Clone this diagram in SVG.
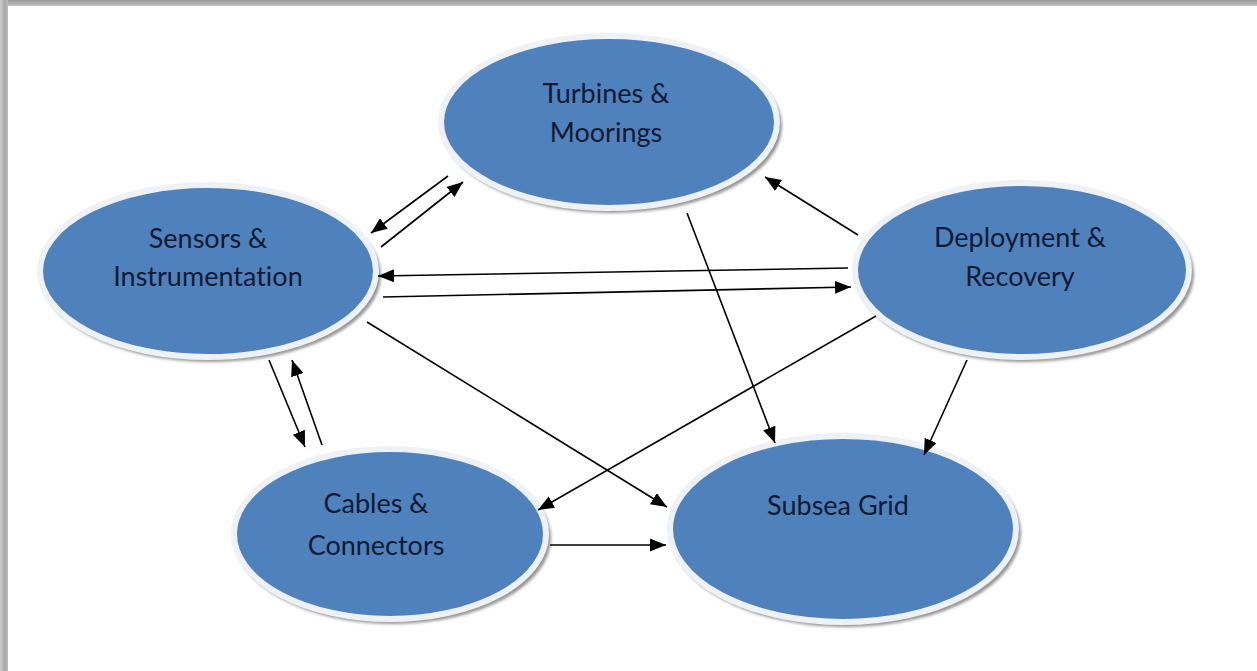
<svg xmlns="http://www.w3.org/2000/svg" width="1257" height="671" viewBox="0 0 1257 671">
  <defs>
    <linearGradient id="topEdge" x1="0" y1="0" x2="0" y2="1">
      <stop offset="0" stop-color="#9a9a9a"/>
      <stop offset="1" stop-color="#c8c8c8"/>
    </linearGradient>
    <linearGradient id="leftEdge" x1="0" y1="0" x2="1" y2="0">
      <stop offset="0" stop-color="#cfcfcf"/>
      <stop offset="0.6" stop-color="#a8a8a8"/>
      <stop offset="1" stop-color="#bdbdbd"/>
    </linearGradient>
    <filter id="soft" x="-10%" y="-10%" width="120%" height="120%">
      <feGaussianBlur stdDeviation="1.5"/>
    </filter>
    <marker id="arr" markerUnits="userSpaceOnUse" markerWidth="18" markerHeight="14" refX="16" refY="6.5" orient="auto">
      <path d="M0,0 L16,6.5 L0,13 Z" fill="#000"/>
    </marker>
  </defs>
  <style>
    .rim { fill: #4f81bd; stroke: #eef1f5; stroke-width: 6; }
    .shadow { fill: #959595; filter: url(#soft); }
    .lbl { font-family: Lato, "Liberation Sans", sans-serif; font-size: 27px; fill: #101a30; text-anchor: middle; font-variant-ligatures: none; font-feature-settings: "liga" 0; }
    .conn line { stroke: #000; stroke-width: 1.6; marker-end: url(#arr); }
  </style>

  <!-- page frame -->
  <rect x="0" y="0" width="1257" height="671" fill="#ffffff"/>
  <rect x="0" y="0" width="1257" height="7" fill="url(#topEdge)"/>
  <rect x="0" y="0" width="8" height="671" fill="url(#leftEdge)"/>
  <rect x="8" y="6" width="1249" height="665" fill="#ffffff"/>

  <g id="node-turbines">
    <ellipse class="shadow" cx="612" cy="126" rx="170" ry="87"/>
    <ellipse class="rim" cx="609" cy="122" rx="168" ry="86"/>
    <text class="lbl" x="606" y="103">Turbines &amp;</text>
    <text class="lbl" x="606" y="142">Moorings</text>
  </g>

  <g id="node-sensors">
    <ellipse class="shadow" cx="211" cy="275" rx="170" ry="87"/>
    <ellipse class="rim" cx="208" cy="271" rx="168" ry="86"/>
    <text class="lbl" x="208" y="248">Sensors &amp;</text>
    <text class="lbl" x="208" y="286">Instrumentation</text>
  </g>

  <g id="node-deployment">
    <ellipse class="shadow" cx="1025" cy="274" rx="169" ry="88"/>
    <ellipse class="rim" cx="1022" cy="270" rx="167" ry="87"/>
    <text class="lbl" x="1020" y="247">Deployment &amp;</text>
    <text class="lbl" x="1020" y="286">Recovery</text>
  </g>

  <g id="node-cables">
    <ellipse class="shadow" cx="393" cy="538" rx="158" ry="86"/>
    <ellipse class="rim" cx="390" cy="534" rx="156" ry="85"/>
    <text class="lbl" x="376" y="513">Cables &amp;</text>
    <text class="lbl" x="376" y="555">Connectors</text>
  </g>

  <g id="node-subsea">
    <ellipse class="shadow" cx="846" cy="533" rx="175" ry="94"/>
    <ellipse class="rim" cx="843" cy="529" rx="173" ry="93"/>
    <text class="lbl" x="838" y="515">Subsea Grid</text>
  </g>

  <g id="connectors" class="conn">
    <line x1="448" y1="176" x2="371" y2="233"/>
    <line x1="381" y1="247" x2="463" y2="182"/>
    <line x1="858" y1="235" x2="765" y2="177"/>
    <line x1="848" y1="268" x2="378" y2="276"/>
    <line x1="383" y1="297" x2="851" y2="287"/>
    <line x1="367" y1="322" x2="667" y2="507"/>
    <line x1="687" y1="213" x2="775" y2="443"/>
    <line x1="876" y1="316" x2="538" y2="510"/>
    <line x1="967" y1="360" x2="924" y2="455"/>
    <line x1="269" y1="360" x2="305" y2="447"/>
    <line x1="322" y1="445" x2="292" y2="360"/>
    <line x1="550" y1="545" x2="666" y2="545"/>
  </g>
</svg>
